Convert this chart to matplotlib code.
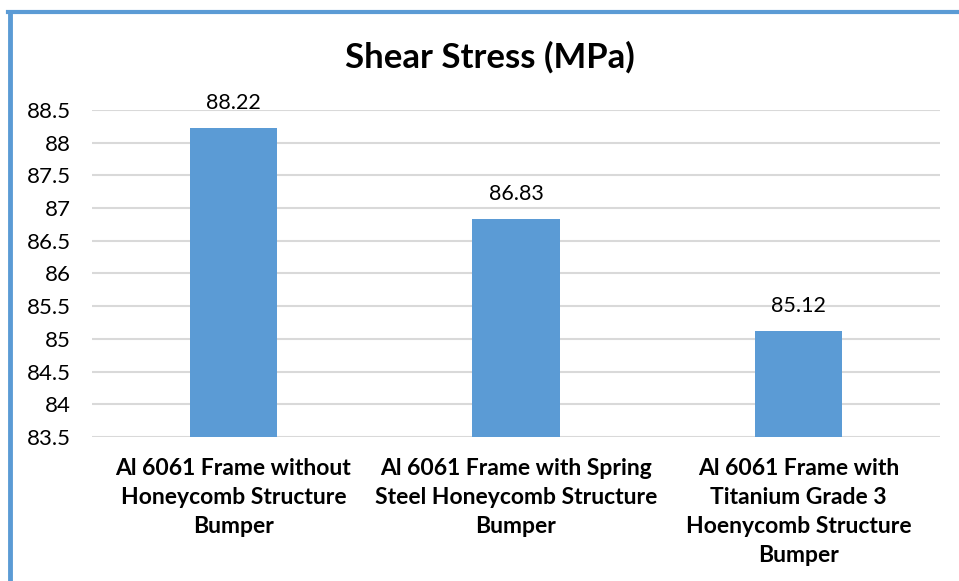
import matplotlib.pyplot as plt
from matplotlib.lines import Line2D

categories = [
    "Al 6061 Frame without\nHoneycomb Structure\nBumper",
    "Al 6061 Frame with Spring\nSteel Honeycomb Structure\nBumper",
    "Al 6061 Frame with\nTitanium Grade 3\nHoenycomb Structure\nBumper",
]
values = [88.22, 86.83, 85.12]
yticks = [83.5, 84, 84.5, 85, 85.5, 86, 86.5, 87, 87.5, 88, 88.5]

plt.rcParams["font.family"] = ["Lato", "DejaVu Sans"]

W, H = 959, 581
fig = plt.figure(figsize=(W / 100, H / 100), dpi=100)
ax = fig.add_axes([92 / W, 1 - 437 / H, (940 - 92) / W, (437 - 110) / H])

x = list(range(len(values)))
ax.bar(x, values, width=0.31, color="#5b9bd5", zorder=3)
ax.set_ylim(83.5, 88.5)
ax.set_xlim(-0.5, len(values) - 0.5)
ax.set_yticks(yticks)
ax.set_yticklabels([f"{t:g}" for t in yticks], fontsize=16)
ax.set_xticks(x)
ax.set_xticklabels(categories, fontsize=16.5, fontweight="bold", linespacing=1.47)
ax.tick_params(axis="both", length=0, colors="black")
ax.tick_params(axis="y", pad=15)
ax.tick_params(axis="x", pad=15)
ax.grid(axis="y", color="#d9d9d9", linewidth=1.5, zorder=0)
for side in ax.spines.values():
    side.set_visible(False)

for xi, v in zip(x, values):
    ax.annotate(f"{v:.2f}", (xi, v), xytext=(0, 11), textcoords="offset points",
                ha="center", va="bottom", fontsize=15.5)

fig.text(490 / W, 1 - 57 / H, "Shear Stress (MPa)", ha="center", va="center",
         fontsize=25, fontweight="bold")

# blue frame on left and top edges
fig.add_artist(Line2D([10 / W, 10 / W], [0, 1 - 11.5 / H], color="#5b9bd5",
                      linewidth=3.5, transform=fig.transFigure))
fig.add_artist(Line2D([8 / W, 1], [1 - 11.5 / H, 1 - 11.5 / H], color="#5b9bd5",
                      linewidth=3.0, transform=fig.transFigure))

fig.savefig("out.png", dpi=100)
